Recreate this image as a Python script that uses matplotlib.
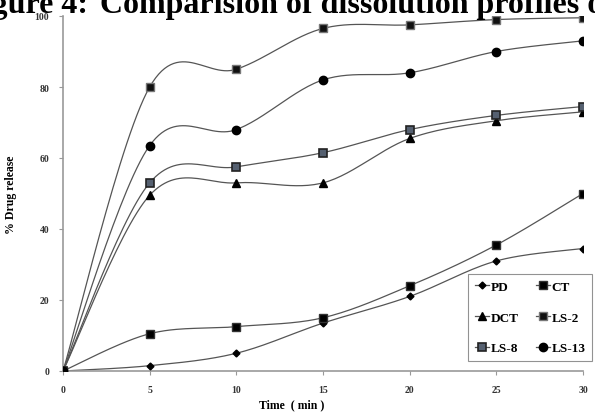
#!/usr/bin/env python3
"""Dissolution profiles (Figure 4) - smoothed line chart, Excel style."""
import numpy as np
import matplotlib
matplotlib.use("Agg")
import matplotlib.pyplot as plt
from matplotlib.lines import Line2D

time_min = [0, 5, 10, 15, 20, 25, 30]
pd_rel = [0, 1.5, 5.0, 13.5, 21.0, 31.0, 34.5]
ct_rel = [0, 10.5, 12.5, 15.0, 24.0, 35.5, 50.0]
dct_rel = [0, 49.5, 53.0, 53.0, 65.5, 70.5, 73.0]
ls2_rel = [0, 80.0, 85.0, 96.5, 97.5, 99.0, 99.5]
ls8_rel = [0, 53.0, 57.5, 61.5, 68.0, 72.0, 74.5]
ls13_rel = [0, 63.5, 68.0, 82.0, 84.0, 90.0, 93.0]
series_names = ["PD", "CT", "DCT", "LS-2", "LS-8", "LS-13"]

SERIF = "Liberation Serif"
W, H = 595, 414


def smooth(x, y, n=30, tension=0.5):
    # Catmull-Rom style curve through the points (like Excel "smoothed line")
    x = np.asarray(x, float); y = np.asarray(y, float)
    px = np.concatenate([[x[0]], x, [x[-1]]])
    py = np.concatenate([[y[0]], y, [y[-1]]])
    xs, ys = [], []
    t = np.linspace(0, 1, n)
    for i in range(1, len(px) - 2):
        p0 = np.array([px[i - 1], py[i - 1]]); p1 = np.array([px[i], py[i]])
        p2 = np.array([px[i + 1], py[i + 1]]); p3 = np.array([px[i + 2], py[i + 2]])
        m1 = tension * (p2 - p0); m2 = tension * (p3 - p1)
        h00 = 2 * t**3 - 3 * t**2 + 1; h10 = t**3 - 2 * t**2 + t
        h01 = -2 * t**3 + 3 * t**2; h11 = t**3 - t**2
        pts = (np.outer(h00, p1) + np.outer(h10, m1) + np.outer(h01, p2) + np.outer(h11, m2))
        xs.append(pts[:, 0]); ys.append(pts[:, 1])
    return np.concatenate(xs), np.concatenate(ys)


fig = plt.figure(figsize=(W / 100, H / 100), dpi=100)
ax_l, ax_r, ax_t, ax_b = 63, 583, 17, 372
ax = fig.add_axes([ax_l / W, 1 - ax_b / H, (ax_r - ax_l) / W, (ax_b - ax_t) / H])

styles = [
    (pd_rel, dict(marker="D", ms=3.5, mfc="black", mec="black")),
    (ct_rel, dict(marker="s", ms=5.5, mfc="black", mec="#333333")),
    (dct_rel, dict(marker="^", ms=5.5, mfc="black", mec="black")),
    (ls2_rel, dict(marker="s", ms=6, mfc="#111111", mec="#777777", mew=1.0)),
    (ls8_rel, dict(marker="s", ms=6, mfc="#556070", mec="#222222", mew=1.2)),
    (ls13_rel, dict(marker="o", ms=6, mfc="black", mec="black")),
]
line_col = "#555555"
handles = []
for (vals, mk), name in zip(styles, series_names):
    sx, sy = smooth(time_min, vals)
    ax.plot(sx, sy, color=line_col, lw=0.9, zorder=2)
    ax.plot(time_min, vals, ls="none", zorder=3, **mk)
    handles.append(Line2D([], [], color=line_col, lw=0.9, label=name, **mk))

ax.set_xlim(0, 30)
ax.set_ylim(0, 100)
ax.set_xticks(time_min)
ax.set_yticks([0, 20, 40, 60, 80, 100])
for s in ["top", "right"]:
    ax.spines[s].set_visible(False)
for s in ["left", "bottom"]:
    ax.spines[s].set_color("#999999")
    ax.spines[s].set_linewidth(1.2)
ax.tick_params(direction="out", length=3, width=0.8, color="#999999", labelsize=7, pad=7)
for lab in ax.get_xticklabels() + ax.get_yticklabels():
    lab.set_fontfamily(SERIF); lab.set_fontweight("bold"); lab.set_color("#333333")

ax.set_ylabel("% Drug release", fontfamily=SERIF, fontweight="bold", fontsize=8.5)
ax.yaxis.set_label_coords((17 - ax_l) / (ax_r - ax_l), 0.5)
ax.set_xlabel("Time  ( min )", fontfamily=SERIF, fontweight="bold", fontsize=8.5, va="center")
ax.xaxis.set_label_coords((292 - ax_l) / (ax_r - ax_l), (ax_b - 405) / (ax_b - ax_t))

# legend fills row-wise in the reference: PD CT / DCT LS-2 / LS-8 LS-13
order = [0, 2, 4, 1, 3, 5]
leg = fig.legend(handles=[handles[i] for i in order], ncol=2, loc="lower right",
                 bbox_to_anchor=(592 / W, 1 - 362 / H),
                 prop={"family": SERIF, "weight": "bold", "size": 9.5},
                 frameon=True, fancybox=False, edgecolor="#777777", handlelength=1.1,
                 handletextpad=0.1, columnspacing=1.3, labelspacing=1.4, borderpad=0.5,
                 borderaxespad=0)
leg.get_frame().set_linewidth(0.8)

# title sits partly above the page edge, as in the scanned figure
base_y = 1 - 13 / H
fig.text(88 / W, base_y, "Figure 4:", fontfamily=SERIF, fontweight="bold",
         fontsize=23, ha="right", va="baseline")
fig.text(100 / W, base_y, "Comparision of dissolution profiles of",
         fontfamily=SERIF, fontweight="bold", fontsize=23, ha="left", va="baseline")

fig.savefig("out.png", dpi=100)
